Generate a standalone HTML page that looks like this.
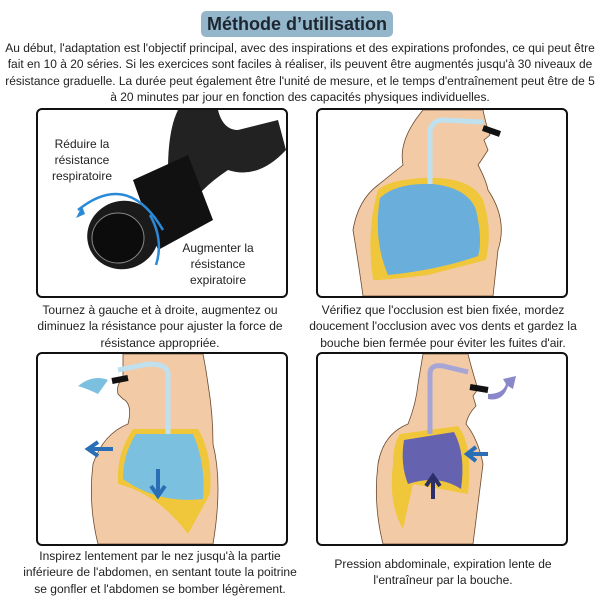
<!DOCTYPE html>
<html><head><meta charset="utf-8"><style>
body{margin:0;width:600px;height:600px;background:#fff;font-family:"Liberation Sans",sans-serif;color:#222;position:relative;overflow:hidden}
.t{position:absolute;left:201px;top:11px;width:192px;height:26px;background:#93b6cb;border-radius:5px;text-align:center;font-weight:bold;font-size:18px;line-height:26px;color:#1d2630}
.p{position:absolute;left:-50px;top:40px;width:700px;text-align:center;font-size:12.4px;line-height:16.3px;white-space:nowrap;transform:scaleX(0.965);transform-origin:350px 0}
.f{position:absolute;border:2px solid #111;border-radius:6px;overflow:hidden;background:#fff}
.c{position:absolute;text-align:center;font-size:12.4px;line-height:16.3px;white-space:nowrap;transform:scaleX(0.97)}
svg{position:absolute;left:0;top:0}
</style></head><body>
<div class="t">Méthode d’utilisation</div>
<div class="p">Au début, l'adaptation est l'objectif principal, avec des inspirations et des expirations profondes, ce qui peut être<br>fait en 10 à 20 séries. Si les exercices sont faciles à réaliser, ils peuvent être augmentés jusqu'à 30 niveaux de<br>résistance graduelle. La durée peut également être l'unité de mesure, et le temps d'entraînement peut être de 5<br>à 20 minutes par jour en fonction des capacités physiques individuelles.</div>

<div class="f" style="left:36px;top:108px;width:248px;height:186px">
<svg width="248" height="186">
<path d="M140 0 L180 0 Q185 20 200 20 L240 10 L248 40 Q220 70 190 60 Q160 80 150 100 L130 60 Q130 20 140 0Z" fill="#222"/>
<path d="M95 70 L150 45 L175 110 L120 140Z" fill="#111"/>
<ellipse cx="85" cy="125" rx="36" ry="34" fill="#1a1a1a" transform="rotate(-20 85 125)"/>
<ellipse cx="80" cy="128" rx="26" ry="25" fill="#0c0c0c" stroke="#888" stroke-width="1"/>
<path d="M40 100 Q90 60 125 120" fill="none" stroke="#2a8ad8" stroke-width="2.5"/>
<path d="M112 105 Q126 130 118 155" fill="none" stroke="#2a8ad8" stroke-width="2.5"/>
<path d="M38 108 L44 96 L47 104Z" fill="#2a8ad8"/>
<text x="44" y="38" font-size="12" text-anchor="middle" fill="#222">Réduire la</text>
<text x="44" y="54" font-size="12" text-anchor="middle" fill="#222">résistance</text>
<text x="44" y="70" font-size="12" text-anchor="middle" fill="#222">respiratoire</text>
<text x="180" y="142" font-size="12" text-anchor="middle" fill="#222">Augmenter la</text>
<text x="180" y="158" font-size="12" text-anchor="middle" fill="#222">résistance</text>
<text x="180" y="174" font-size="12" text-anchor="middle" fill="#222">expiratoire</text>
</svg></div>
<div class="c" style="left:0px;top:302px;width:320px">Tournez à gauche et à droite, augmentez ou<br>diminuez la résistance pour ajuster la force de<br>résistance appropriée.</div>

<div class="f" style="left:316px;top:108px;width:248px;height:186px">
<svg width="248" height="186">
<path d="M105 0 L165 0 Q168 15 172 25 L166 30 L170 40 Q165 48 160 55 Q168 70 170 80 Q190 110 180 140 L175 186 L45 186 Q40 150 35 120 Q40 90 60 75 L85 55 Q80 30 105 0Z" fill="#f2cba6" stroke="#6b4a30" stroke-width="0.8"/>
<path d="M60 80 Q70 70 105 68 L120 68 Q155 70 165 90 Q175 120 168 150 L110 165 Q70 170 55 170 Q48 120 60 80Z" fill="#f0c63a"/>
<path d="M62 88 Q75 75 105 74 L115 74 Q150 78 158 100 Q165 130 160 146 Q120 160 70 165 Q55 130 62 88Z" fill="#6aaedb"/>
<path d="M112 74 L112 20 Q115 10 125 10 L165 12" fill="none" stroke="#bfe0ef" stroke-width="5"/>
<path d="M165 18 L182 24" stroke="#111" stroke-width="6"/>
</svg></div>
<div class="c" style="left:283px;top:302px;width:320px">Vérifiez que l'occlusion est bien fixée, mordez<br>doucement l'occlusion avec vos dents et gardez la<br>bouche bien fermée pour éviter les fuites d'air.</div>

<div class="f" style="left:36px;top:352px;width:248px;height:190px">
<svg width="248" height="190">
<path d="M105 0 L165 0 Q168 15 170 30 Q175 60 175 90 Q185 130 175 190 L60 190 Q50 150 55 110 Q65 80 90 70 Q95 50 85 45 L80 40 Q78 30 85 25 L85 0Z" fill="#f2cba6" stroke="#6b4a30" stroke-width="0.8"/>
<path d="M95 75 L160 75 Q175 100 172 140 L150 180 Q120 140 80 130 Q78 100 95 75Z" fill="#f0c63a"/>
<path d="M98 80 L155 80 Q168 110 165 145 Q120 150 85 125 Q85 100 98 80Z" fill="#7cc0e0"/>
<path d="M130 80 L130 20 Q130 10 110 10 L80 16" fill="none" stroke="#bfe0ef" stroke-width="5"/>
<path d="M74 27 L90 24" stroke="#111" stroke-width="6"/>
<path d="M40 32 Q55 20 70 26 L60 40 Q50 35 40 32Z" fill="#7cc0e0"/>
<path d="M75 95 L52 95 M60 88 L50 95 L60 102" stroke="#2a6fb5" stroke-width="4" fill="none"/>
<path d="M120 115 L120 140 M113 132 L120 142 L127 132" stroke="#2a6fb5" stroke-width="4" fill="none"/>
</svg></div>
<div class="c" style="left:0px;top:548px;width:320px">Inspirez lentement par le nez jusqu'à la partie<br>inférieure de l'abdomen, en sentant toute la poitrine<br>se gonfler et l'abdomen se bomber légèrement.</div>

<div class="f" style="left:316px;top:352px;width:248px;height:190px">
<svg width="248" height="190">
<path d="M105 0 L150 0 Q155 20 160 35 L155 42 L158 52 Q150 60 148 70 Q160 85 165 110 Q160 150 155 190 L65 190 Q55 150 60 110 Q65 80 90 70 Q98 50 100 30Z" fill="#f2cba6" stroke="#6b4a30" stroke-width="0.8"/>
<path d="M82 80 L140 72 Q155 90 150 140 L95 130 L85 175 Q70 150 75 110 Q75 90 82 80Z" fill="#f0c63a"/>
<path d="M86 86 L136 78 Q148 100 143 135 Q120 120 90 130 Q82 110 86 86Z" fill="#6563b0"/>
<path d="M112 80 L112 20 Q112 10 125 12 L150 18" fill="none" stroke="#a7a5d6" stroke-width="5"/>
<path d="M152 33 L170 36" stroke="#111" stroke-width="6"/>
<path d="M170 40 Q185 40 188 30 L185 25 L198 22 L195 35 L190 32 Q185 48 170 45Z" fill="#8a88c8"/>
<path d="M170 100 L150 100 M158 93 L149 100 L158 107" stroke="#2a6fb5" stroke-width="4" fill="none"/>
<path d="M115 145 L115 125 M108 132 L115 122 L122 132" stroke="#2a2f6a" stroke-width="4" fill="none"/>
</svg></div>
<div class="c" style="left:283px;top:556px;width:320px">Pression abdominale, expiration lente de<br>l'entraîneur par la bouche.</div>
</body></html>
